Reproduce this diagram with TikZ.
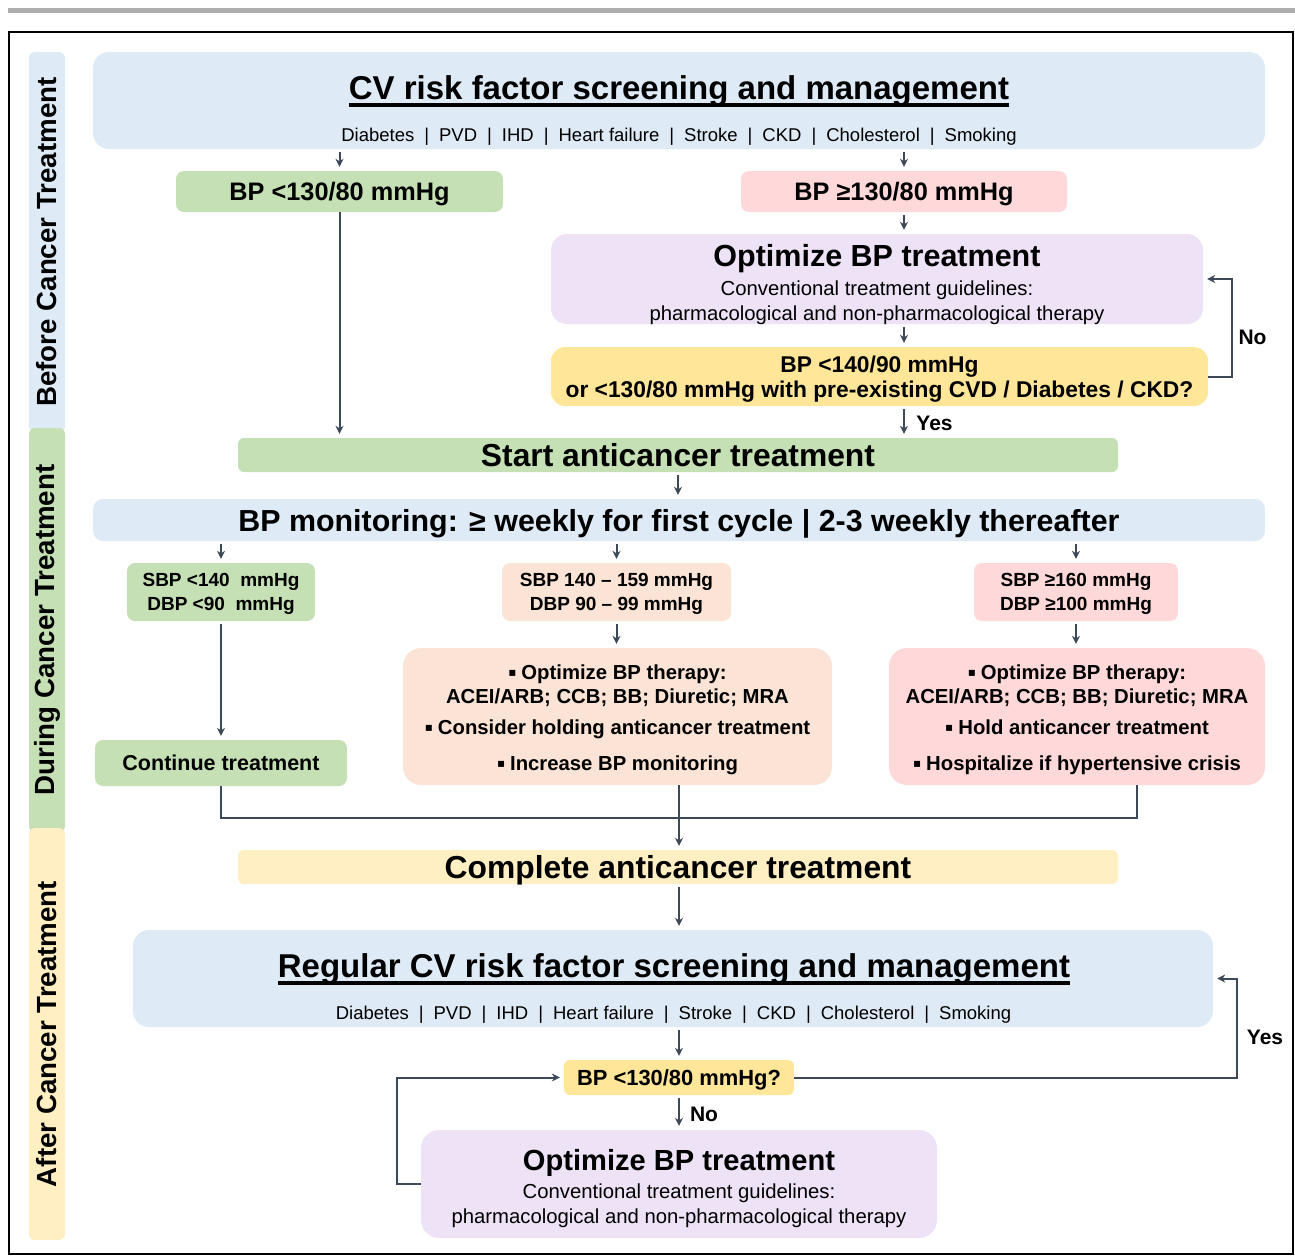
\documentclass[tikz,border=0pt]{standalone}
\usepackage{fontspec}
\setmainfont{Liberation Sans}
\newfontfamily\symb{DejaVu Sans}
\usetikzlibrary{arrows.meta}

\definecolor{cvblue}{HTML}{DEEAF6}
\definecolor{okgreen}{HTML}{C5E0B4}
\definecolor{hipink}{HTML}{FFD9D9}
\definecolor{midpeach}{HTML}{FBE4D5}
\definecolor{optlilac}{HTML}{EDE2F6}
\definecolor{askyellow}{HTML}{FFE699}
\definecolor{paleyellow}{HTML}{FFEFC2}
\definecolor{wire}{HTML}{3D4859}
\definecolor{rulegray}{HTML}{AEAEAE}

\newcommand\fs[2]{\fontsize{#1}{#2}\selectfont}
\newcommand\ulbx[1]{\setbox0\hbox{#1}\rlap{\rule[-7.5pt]{\wd0}{4pt}}\box0}
\newcommand\sq{\raisebox{3pt}{\symb\fontsize{12}{12}\selectfont ▪}\hspace{5pt}}
\newcommand\divbar{\hspace{10pt}|\hspace{10pt}}
\newcommand\risklist{Diabetes\divbar PVD\divbar IHD\divbar Heart failure\divbar Stroke\divbar CKD\divbar Cholesterol\divbar Smoking}

\tikzset{
  box/.style={rounded corners=#1, inner sep=0pt, align=center, text depth=0pt},
  box/.default=8pt,
  phase/.style={rounded corners=6pt, rotate=90, minimum height=36pt, inner sep=0pt,
    font=\fs{27.7}{30}\bfseries},
  t/.style={anchor=base, inner sep=0pt},
  arr/.style={draw=wire, line width=2pt, shorten >=4pt, -{Stealth[length=8pt,width=8pt]}},
  gap/.style={shorten <=3pt},
  wireline/.style={draw=wire, line width=2pt},
  lbl/.style={font=\fs{21}{25}\bfseries, inner sep=0pt},
}

\begin{document}
\begin{tikzpicture}[x=1pt, y=-1pt]
\useasboundingbox (0,0) rectangle (1295,1256);
\draw[line width=5pt, draw=rulegray] (8,10) -- (1295,10);
\draw[line width=2pt] (9,32) rectangle (1293,1254);

% phases
\node[phase, fill=cvblue, minimum width=380pt] (before) at (47,242) {Before Cancer Treatment};
\node[phase, fill=okgreen, minimum width=404pt] (during) at (47,630) {During Cancer Treatment};
\node[phase, fill=paleyellow, minimum width=412pt] (after) at (47,1034) {After Cancer Treatment};

% before treatment
\node[box=16pt, fill=cvblue, minimum width=1172pt, minimum height=97pt] (cv) at (679,100.5) {};
\node[t, font=\fs{33}{40}\bfseries] (cvtitle) at (679,99) {\ulbx{CV risk factor screening and management}};
\node[t, font=\fs{18.5}{22}] (cvlist) at (679,141) {\risklist};

\node[box, fill=okgreen, minimum width=327pt, minimum height=41pt, font=\fs{25.3}{30}\bfseries] (bplow) at (339.5,191.5) {BP <130/80 mmHg};
\node[box, fill=hipink, minimum width=326pt, minimum height=41pt, font=\fs{25.3}{30}\bfseries] (bphigh) at (904,191.5) {BP ≥130/80 mmHg};

\node[box=16pt, fill=optlilac, minimum width=652pt, minimum height=90pt] (opt) at (877,279) {};
\node[t, font=\fs{30.5}{36}\bfseries] (opttitle) at (877,266.5) {Optimize BP treatment};
\node[t, font=\fs{20.3}{24}] (optline1) at (877,295) {Conventional treatment guidelines:};
\node[t, font=\fs{20.3}{24}] (optline2) at (877,320) {pharmacological and non-pharmacological therapy};

\node[box=14pt, fill=askyellow, minimum width=657pt, minimum height=59pt] (target) at (879.5,376.5) {};
\node[t, font=\fs{22.8}{27}\bfseries] (tgtline1) at (879.5,372) {BP <140/90 mmHg};
\node[t, font=\fs{22.8}{27}\bfseries] (tgtline2) at (879.5,397) {or <130/80 mmHg with pre-existing CVD / Diabetes / CKD?};

% during treatment
\node[box=6pt, fill=okgreen, minimum width=880pt, minimum height=34pt, font=\fs{31.8}{36}\bfseries] (start) at (678,455) {Start anticancer treatment};
\node[box=10pt, fill=cvblue, minimum width=1172pt, minimum height=42pt, font=\fs{30.4}{36}\bfseries] (monitor) at (679,520) {BP monitoring: ≥ weekly for first cycle | 2-3 weekly thereafter};

\node[box, fill=okgreen, minimum width=188pt, minimum height=58pt, font=\fs{19}{23.5}\bfseries] (sbpA) at (221,592) {SBP <140~~mmHg\\DBP <90~~mmHg};
\node[box, fill=midpeach, minimum width=229pt, minimum height=58pt, font=\fs{19}{23.5}\bfseries] (sbpB) at (616.5,592) {SBP 140 – 159 mmHg\\DBP 90 – 99 mmHg};
\node[box, fill=hipink, minimum width=204pt, minimum height=58pt, font=\fs{19}{23.5}\bfseries] (sbpC) at (1076,592) {SBP ≥160 mmHg\\DBP ≥100 mmHg};

\node[box, fill=okgreen, minimum width=252pt, minimum height=46pt, font=\fs{21.5}{26}\bfseries] (cont) at (221,763) {Continue treatment};

\node[box=18pt, fill=midpeach, minimum width=429pt, minimum height=137pt] (actB) at (617.5,716.5) {};
\node[t, font=\fs{20.3}{24}\bfseries] (actBl1) at (617.5,679) {\sq Optimize BP therapy:};
\node[t, font=\fs{20.3}{24}\bfseries] (actBl2) at (617.5,703) {ACEI/ARB; CCB; BB; Diuretic; MRA};
\node[t, font=\fs{20.3}{24}\bfseries] (actBl3) at (617.5,734) {\sq Consider holding anticancer treatment};
\node[t, font=\fs{20.3}{24}\bfseries] (actBl4) at (617.5,770.5) {\sq Increase BP monitoring};

\node[box=18pt, fill=hipink, minimum width=376pt, minimum height=137pt] (actC) at (1077,716.5) {};
\node[t, font=\fs{20.3}{24}\bfseries] (actCl1) at (1077,679) {\sq Optimize BP therapy:};
\node[t, font=\fs{20.3}{24}\bfseries] (actCl2) at (1077,703) {ACEI/ARB; CCB; BB; Diuretic; MRA};
\node[t, font=\fs{20.3}{24}\bfseries] (actCl3) at (1077,734) {\sq Hold anticancer treatment};
\node[t, font=\fs{20.3}{24}\bfseries] (actCl4) at (1077,770.5) {\sq Hospitalize if hypertensive crisis};

% after treatment
\node[box=6pt, fill=paleyellow, minimum width=880pt, minimum height=34pt, font=\fs{31.8}{36}\bfseries] (complete) at (678,867) {Complete anticancer treatment};

\node[box=16pt, fill=cvblue, minimum width=1080pt, minimum height=97pt] (regcv) at (673,978.5) {};
\node[t, font=\fs{33}{40}\bfseries] (regtitle) at (674,977) {\ulbx{Regular CV risk factor screening and management}};
\node[t, font=\fs{18.5}{22}] (reglist) at (673.5,1019) {\risklist};

\node[box=6pt, fill=askyellow, minimum width=230pt, minimum height=35pt, font=\fs{21.9}{26}\bfseries] (check) at (679,1077.5) {BP <130/80 mmHg?};

\node[box=18pt, fill=optlilac, minimum width=516pt, minimum height=108pt] (opt2) at (679,1184) {};
\node[t, font=\fs{29.1}{35}\bfseries] (opt2title) at (679,1170) {Optimize BP treatment};
\node[t, font=\fs{20.3}{24}] (opt2line1) at (679,1198) {Conventional treatment guidelines:};
\node[t, font=\fs{20.3}{24}] (opt2line2) at (679,1223.5) {pharmacological and non-pharmacological therapy};

% connectors
\draw[arr, gap] (bplow.north |- cv.south) -- (bplow.north);
\draw[arr, gap] (bphigh.north |- cv.south) -- (bphigh.north);
\draw[arr] (bplow.south) -- (bplow.south |- start.north);
\draw[arr, gap] (bphigh.south) -- (bphigh.south |- opt.north);
\draw[arr, gap] (bphigh.south |- opt.south) -- (bphigh.south |- target.north);
\draw[arr, gap] (bphigh.south |- target.south) -- (bphigh.south |- start.north);
\draw[arr] (target.east) -- ++(24,0) |- (opt.east);
\node[lbl] (yes1) at (934.5,423) {Yes};
\node[lbl] (no1) at (1252.5,337) {No};

\draw[arr, gap] (start.south) -- (start.south |- monitor.north);
\draw[arr, gap] (sbpA.north |- monitor.south) -- (sbpA.north);
\draw[arr, gap] (sbpB.north |- monitor.south) -- (sbpB.north);
\draw[arr, gap] (sbpC.north |- monitor.south) -- (sbpC.north);
\draw[arr, gap] (sbpA.south) -- (cont.north);
\draw[arr, gap] (sbpB.south) -- (sbpB.south |- actB.north);
\draw[arr, gap] (sbpC.south) -- (sbpC.south |- actC.north);

\coordinate (merge) at (679,818);
\draw[wireline] (cont.south) |- (merge) -| ([xshift=60pt]actC.south);
\draw[arr] (actB.south -| merge) -- (merge |- complete.north);

\draw[arr, gap] (complete.south -| merge) -- (merge |- regcv.north);
\draw[arr, gap] (check.north |- regcv.south) -- (check.north);
\draw[arr, gap] (check.south) -- (opt2.north);
\draw[arr] (opt2.west) -- ++(-24,0) |- (check.west);
\draw[arr] (check.east) -- ++(443,0) |- (regcv.east);
\node[lbl] (no2) at (704,1114) {No};
\node[lbl] (yes2) at (1265,1037) {Yes};
\end{tikzpicture}
\end{document}
